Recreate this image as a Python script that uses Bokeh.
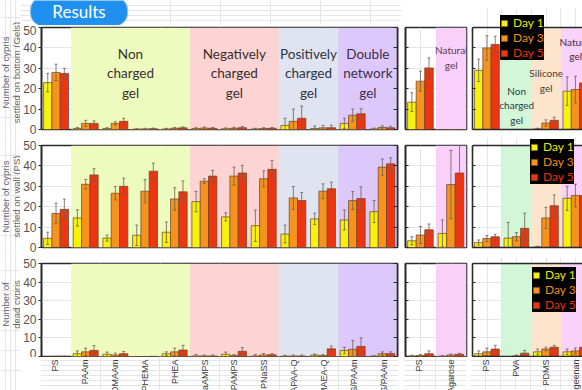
import numpy as np
from math import pi
from bokeh.plotting import figure
from bokeh.models import (Range1d, LinearAxis, FixedTicker, BoxAnnotation, Label, Span,
                          LabelSet, ColumnDataSource, Legend, LegendItem, CustomLabelingPolicy)
from bokeh.core.properties import value
from bokeh.layouts import row, column
from bokeh.embed import file_html
from bokeh.resources import INLINE

# ---------------- data ----------------
cats_a = ["PS", "PAAm", "PDMAAm", "PHEMA", "PHEA", "PNaAMPS", "PAMPS", "PNaSS",
          "PDMAPAA-Q", "PDMAEA-Q", "PNaAMPS/PAAm", "PAMPS/PAAm"]
cats_b = ["PS", "Agarose"]
cats_c = ["PS", "PVA", "PDMS", "Carrageenan"]
days = ["Day 1", "Day 3", "Day 5"]

# group label, first category index, number of categories
groups_a = [("Non\ncharged\ngel", 1, 4), ("Negatively\ncharged\ngel", 5, 3),
            ("Positively\ncharged\ngel", 8, 2), ("Double\nnetwork\ngel", 10, 2)]
groups_b = [("Natural\ngel", 1, 1)]
groups_c = [("Non\ncharged\ngel", 1, 1), ("Silicone\ngel", 2, 1), ("Natural\ngel", 3, 1)]

row_titles = ["Number of cypris\nsettled on bottom (Gels)",
              "Number of cypris\nsettled on wall (PS)",
              "Number of\ndead cypris"]
y_ticks = [0, 10, 20, 30, 40, 50]
y_max = 50

# settled on bottom (gels)
bottom_a_d1 = [23, 0.5, 0.5, 0.2, 0.3, 0.5, 0.4, 0.3, 2.0, 0.5, 3.0, 0.3]
bottom_a_d3 = [28, 3.0, 3.0, 0.3, 0.6, 0.7, 0.6, 0.5, 4.0, 0.8, 7.0, 1.0]
bottom_a_d5 = [27.5, 3.0, 4.0, 0.4, 0.8, 0.6, 0.9, 0.6, 5.5, 0.9, 7.7, 0.8]
bottom_a_e1 = [4.5, 0.5, 0.4, 0.2, 0.3, 0.4, 0.4, 0.3, 3.5, 1.2, 2.5, 0.4]
bottom_a_e3 = [4.0, 1.5, 0.8, 0.3, 0.4, 0.5, 0.5, 0.4, 6.0, 1.2, 3.0, 0.8]
bottom_a_e5 = [2.5, 1.2, 1.5, 0.3, 0.5, 0.4, 0.6, 0.4, 6.0, 1.2, 2.5, 0.8]
bottom_b_d1 = [13.4, 0]
bottom_b_d3 = [23.7, 0]
bottom_b_d5 = [30.2, 0]
bottom_b_e1 = [4.6, 0]
bottom_b_e3 = [4.9, 0]
bottom_b_e5 = [4.9, 0]
bottom_c_d1 = [29.0, 0, 0.3, 18.8]
bottom_c_d3 = [40.0, 0, 3.2, 19.6]
bottom_c_d5 = [41.7, 0, 4.5, 22.8]
bottom_c_e1 = [5.5, 0, 0.3, 7.0]
bottom_c_e3 = [6.0, 0, 1.5, 6.5]
bottom_c_e5 = [4.0, 0, 1.5, 5.0]

# settled on wall (PS)
wall_a_d1 = [4.5, 14.5, 4.6, 6.0, 7.5, 22.5, 15.0, 10.7, 6.6, 14.0, 13.5, 17.6]
wall_a_d3 = [16.7, 31.0, 26.6, 27.6, 23.8, 32.5, 35.0, 33.7, 24.3, 27.6, 23.0, 39.4]
wall_a_d5 = [18.7, 35.6, 30.0, 37.4, 27.3, 35.0, 36.5, 38.3, 23.0, 28.8, 24.0, 41.0]
wall_a_e1 = [3.0, 4.0, 1.5, 5.0, 5.0, 5.0, 2.0, 7.7, 4.4, 2.8, 4.9, 5.4]
wall_a_e3 = [5.0, 2.3, 3.3, 5.7, 5.5, 1.2, 4.4, 3.9, 5.6, 3.6, 4.4, 4.0]
wall_a_e5 = [5.0, 3.0, 4.0, 4.0, 5.3, 2.8, 3.8, 4.4, 4.0, 3.2, 5.8, 3.0]
wall_b_d1 = [3.3, 6.9]
wall_b_d3 = [6.1, 30.9]
wall_b_d5 = [8.7, 36.5]
wall_b_e1 = [2.0, 6.6]
wall_b_e3 = [4.2, 16.7]
wall_b_e5 = [2.8, 14.0]
wall_c_d1 = [2.5, 4.6, 0.3, 24.1]
wall_c_d3 = [4.4, 5.3, 14.5, 25.5]
wall_c_d5 = [5.3, 9.4, 20.5, 25.5]
wall_c_e1 = [1.2, 7.7, 0.3, 5.9]
wall_c_e3 = [1.5, 2.0, 5.2, 5.5]
wall_c_e5 = [1.2, 7.4, 5.3, 5.5]

# dead cyprids
dead_a_d1 = [0.0, 1.5, 1.2, 0.0, 1.5, 0.3, 1.2, 0.3, 0.2, 0.8, 3.2, 0.2]
dead_a_d3 = [0.1, 2.5, 0.8, 0.0, 2.5, 0.3, 0.5, 0.8, 0.3, 0.5, 3.9, 1.5]
dead_a_d5 = [0.1, 3.3, 1.5, 0.1, 3.5, 0.3, 2.8, 1.0, 0.3, 4.1, 5.4, 1.5]
dead_a_e1 = [0.0, 1.5, 1.2, 0.0, 1.0, 0.8, 1.2, 0.8, 0.5, 0.5, 1.8, 0.3]
dead_a_e3 = [0.0, 2.0, 1.0, 0.0, 2.0, 0.5, 0.5, 0.8, 0.5, 0.5, 4.7, 1.0]
dead_a_e5 = [0.0, 2.5, 1.2, 0.0, 2.5, 0.5, 2.0, 0.5, 0.5, 1.5, 4.6, 1.0]
dead_b_d1 = [0.2, 0.2]
dead_b_d3 = [0.5, 0.8]
dead_b_d5 = [1.5, 1.2]
dead_b_e1 = [0.5, 0.3]
dead_b_e3 = [0.5, 0.5]
dead_b_e5 = [1.5, 0.5]
dead_c_d1 = [1.5, 0.0, 2.5, 2.5]
dead_c_d3 = [2.5, 0.3, 4.0, 3.0]
dead_c_d5 = [4.0, 1.8, 5.0, 5.0]
dead_c_e1 = [1.5, 0.0, 1.5, 1.5]
dead_c_e3 = [2.0, 0.5, 1.0, 1.5]
dead_c_e5 = [2.0, 1.5, 1.0, 1.5]

# ---------------- style ----------------
DAY_COLORS = ["#f7f20c", "#f6921e", "#ee3512"]
LEG_TEXT = ["#e8e40a", "#f08c1c", "#ea320e"]
BAR_LINE = "#6a4020"
ERR_COLOR = "#6e6050"
FRAME = "#2a2a2a"
BANDS = {"a": ["#eefbbe", "#fcd4d4", "#dfe4f0", "#ddc8fc"],
         "b": ["#f8d0fa"],
         "c": ["#d2f6d6", "#fde5cd", "#f8d2f8"]}
GTEXT = {"a": ["#3a3030", "#3a2c2c", "#2e3444", "#3a2e4a"],
         "b": ["#5a3a5a"],
         "c": ["#2a4040", "#4a3a2a", "#4a2a4a"]}
GSIZE = {"a": "13.5px", "b": "10px", "c": "10px"}
GY = {"a": [27.5] * 4, "b": [35.3], "c": [11.8, 24.0, 39.5]}

TW = 20  # width of y-title strip
COLS = {"a": dict(bl=20, fw=358, br=3, span=None),
        "b": dict(bl=2, fw=63, br=2, span=None),
        "c": dict(bl=2, fw=112, br=0, span=3.73)}
# frame geometry per row (top border, frame height, bottom border); panel c frame
# is taller so that its legend can rise above the 50 line
ROWS = [dict(a=(2, 102, 8), b=(27, 102, 8), c=(8, 121, 8)),
        dict(a=(8, 102, 8), b=(8, 102, 8), c=(0, 110, 8)),
        dict(a=(8, 93, 1), b=(8, 93, 1), c=(2, 99, 1))]
ROW_H = [137, 118, 135]
TITLE_Y = [65, 59, 86]
LEG_POS = [(28, [99, 84, 69]), (58, [93, 78, 63]), (60, [74, 59, 44])]
OFFS = [-0.29, -0.01, 0.27]
BAR_W = 0.28
CAP = 0.05
LABEL_H = 33

data = {
    (0, "a"): ([bottom_a_d1, bottom_a_d3, bottom_a_d5], [bottom_a_e1, bottom_a_e3, bottom_a_e5]),
    (0, "b"): ([bottom_b_d1, bottom_b_d3, bottom_b_d5], [bottom_b_e1, bottom_b_e3, bottom_b_e5]),
    (0, "c"): ([bottom_c_d1, bottom_c_d3, bottom_c_d5], [bottom_c_e1, bottom_c_e3, bottom_c_e5]),
    (1, "a"): ([wall_a_d1, wall_a_d3, wall_a_d5], [wall_a_e1, wall_a_e3, wall_a_e5]),
    (1, "b"): ([wall_b_d1, wall_b_d3, wall_b_d5], [wall_b_e1, wall_b_e3, wall_b_e5]),
    (1, "c"): ([wall_c_d1, wall_c_d3, wall_c_d5], [wall_c_e1, wall_c_e3, wall_c_e5]),
    (2, "a"): ([dead_a_d1, dead_a_d3, dead_a_d5], [dead_a_e1, dead_a_e3, dead_a_e5]),
    (2, "b"): ([dead_b_d1, dead_b_d3, dead_b_d5], [dead_b_e1, dead_b_e3, dead_b_e5]),
    (2, "c"): ([dead_c_d1, dead_c_d3, dead_c_d5], [dead_c_e1, dead_c_e3, dead_c_e5]),
}
CATS = {"a": cats_a, "b": cats_b, "c": cats_c}
GROUPS = {"a": groups_a, "b": groups_b, "c": groups_c}

HIDE_CODE = "for (const i of indices) { indices.unset(i) }\nreturn indices"


def blank_axis(tick_in=0, bounds="auto"):
    return LinearAxis(ticker=FixedTicker(ticks=y_ticks if tick_in else []),
                      major_label_policy=CustomLabelingPolicy(code=HIDE_CODE),
                      major_label_text_font_size="1px", major_label_standoff=0,
                      major_tick_in=tick_in, major_tick_out=0, bounds=bounds,
                      minor_tick_line_color=None, axis_line_color=FRAME,
                      axis_line_width=1.6, major_tick_line_color=FRAME)


def strip(w, h):
    s = figure(width=w, height=h, x_range=Range1d(0, w), y_range=Range1d(0, h),
               x_axis_location=None, y_axis_location=None, toolbar_location=None,
               output_backend="svg", min_border=0, frame_align=False)
    s.outline_line_color = None
    return s


def x_span(kind):
    c = COLS[kind]
    return c["span"] if c["span"] else len(CATS[kind])


def panel(ri, kind):
    cats = CATS[kind]
    n = len(cats)
    c = COLS[kind]
    bt, fh, bb = ROWS[ri][kind]
    scale = ROWS[ri]["b"][1] / y_max
    top = fh / scale
    p = figure(width=c["bl"] + c["fw"] + c["br"], height=bt + fh + bb,
               x_range=Range1d(0, x_span(kind)), y_range=Range1d(0, top),
               x_axis_location=None, y_axis_location=None,
               toolbar_location=None, output_backend="svg", frame_align=False,
               min_border_left=c["bl"], min_border_right=c["br"],
               min_border_top=bt, min_border_bottom=bb)
    p.background_fill_color = "white"
    p.border_fill_color = "white"
    if kind == "c":
        p.outline_line_color = None
    else:
        p.outline_line_color = FRAME
        p.outline_line_width = 1.6

    for gi, (glabel, start, count) in enumerate(GROUPS[kind]):
        p.add_layout(BoxAnnotation(left=start, right=start + count, bottom=0, top=y_max,
                                   fill_color=BANDS[kind][gi], fill_alpha=1.0,
                                   line_color=None, level="underlay"))

    vals, errs = data[(ri, kind)]
    xs = np.arange(n) + 0.5
    rends = []
    for d in range(3):
        x = xs + OFFS[d]
        v = np.array(vals[d], dtype=float)
        e = np.array(errs[d], dtype=float)
        rr = p.vbar(x=x, top=v, bottom=0, width=BAR_W, fill_color=DAY_COLORS[d],
                    line_color=BAR_LINE, line_width=0.7)
        rends.append(rr)
        m = e > 0
        lo = np.clip(v - e, 0, None)[m]
        hi = (v + e)[m]
        xm = x[m]
        p.segment(x0=xm, x1=xm, y0=lo, y1=hi, line_color=ERR_COLOR, line_width=0.8)
        p.segment(x0=xm - CAP, x1=xm + CAP, y0=hi, y1=hi, line_color=ERR_COLOR, line_width=0.8)
        p.segment(x0=xm - CAP, x1=xm + CAP, y0=lo, y1=lo, line_color=ERR_COLOR, line_width=0.8)

    if kind == "a":
        ax = LinearAxis(ticker=FixedTicker(ticks=y_ticks), major_label_standoff=2,
                        major_tick_in=0, major_tick_out=3, minor_tick_line_color=None,
                        axis_line_color=FRAME, axis_line_width=1.6,
                        major_tick_line_color=FRAME,
                        major_label_text_font="Liberation Sans",
                        major_label_text_font_size="12px",
                        major_label_text_color="#555555")
        p.add_layout(ax, "left")
        p.add_layout(blank_axis(4), "right")
    elif kind == "b":
        p.add_layout(blank_axis(3), "left")
    else:
        p.add_layout(blank_axis(3, bounds=(0, y_max)), "left")
        p.add_layout(blank_axis(0), "below")
        p.add_layout(Span(location=y_max, dimension="width", line_color=FRAME,
                          line_width=1.6))

    if ri == 0:
        for gi, (glabel, start, count) in enumerate(GROUPS[kind]):
            p.add_layout(Label(x=start + count / 2, y=GY[kind][gi], text=glabel,
                               text_align="center", text_baseline="middle",
                               text_font="Lato", text_font_size=GSIZE[kind],
                               text_color=GTEXT[kind][gi]))

    if kind == "c":
        lx, lys = LEG_POS[ri]
        for d in range(3):
            lg = Legend(items=[LegendItem(label=days[d], renderers=[rends[d]])],
                        location=(lx, lys[d]), orientation="vertical",
                        background_fill_color="black", background_fill_alpha=1.0,
                        border_line_color=None, padding=3, margin=0, spacing=0,
                        glyph_width=8, glyph_height=8, label_height=9,
                        label_standoff=5, label_text_font="Lato",
                        label_text_font_size="12px", label_text_color=LEG_TEXT[d])
            p.add_layout(lg)
    return p


def title_strip(ri):
    s = strip(TW, ROW_H[ri])
    s.add_layout(Label(x=10, y=TITLE_Y[ri], text=row_titles[ri], angle=pi / 2,
                       text_align="center", text_baseline="middle",
                       text_font="Liberation Sans", text_font_size="9.5px",
                       text_line_height=1.0, text_color="#666666"))
    return s


def label_strip(kind):
    c = COLS[kind]
    cats = CATS[kind]
    s = figure(width=c["bl"] + c["fw"] + c["br"], height=LABEL_H,
               x_range=Range1d(0, x_span(kind)), y_range=Range1d(0, LABEL_H),
               x_axis_location=None, y_axis_location=None, toolbar_location=None,
               output_backend="svg", frame_align=False,
               min_border_left=c["bl"], min_border_right=c["br"],
               min_border_top=0, min_border_bottom=0)
    s.outline_line_color = None
    n = len(cats)
    src = ColumnDataSource(dict(x=np.arange(n) + 0.5, y=[LABEL_H - 2] * n, text=cats))
    s.add_layout(LabelSet(x="x", y="y", text="text", source=src, angle=pi / 2,
                          text_align="right", text_baseline="middle",
                          text_font=value("Liberation Sans"),
                          text_font_size="9px", text_color="#3a3a3a"))
    return s


# "Results" badge strip above panel A of the top row
wa = COLS["a"]["bl"] + COLS["a"]["fw"] + COLS["a"]["br"]
badge = strip(wa, ROW_H[0] - sum(ROWS[0]["a"]))
badge.add_layout(Label(x=58.5, y=14, text="Results", text_align="center",
                       text_baseline="middle", text_font="Lato",
                       text_font_size="17px", text_color="white",
                       background_fill_color="#2090ee", background_fill_alpha=1.0,
                       border_line_color="#9cc8f2", border_line_width=1,
                       padding=dict(left=22, right=22, top=4, bottom=4),
                       border_radius=13))

row1 = row(title_strip(0), column(badge, panel(0, "a"), spacing=0),
           panel(0, "b"), panel(0, "c"), spacing=0)
row2 = row(title_strip(1), panel(1, "a"), panel(1, "b"), panel(1, "c"), spacing=0)
row3 = row(title_strip(2),
           column(row(panel(2, "a"), panel(2, "b"), panel(2, "c"), spacing=0),
                  row(label_strip("a"), label_strip("b"), label_strip("c"), spacing=0),
                  spacing=0),
           spacing=0)
layout = column(row1, row2, row3, spacing=0)

open("out.html", "w").write(file_html(layout, INLINE))
